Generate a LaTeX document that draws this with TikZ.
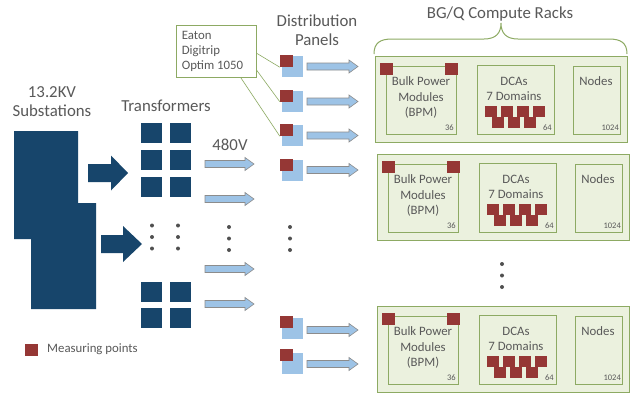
\documentclass[tikz,border=0pt]{standalone}
\usepackage{fontspec}
\setmainfont{Carlito}
\definecolor{dkblue}{HTML}{17456B}
\definecolor{mred}{HTML}{953735}
\definecolor{lblue}{HTML}{9DC3E6}
\definecolor{rackfill}{HTML}{EBF1DE}
\definecolor{rackline}{HTML}{8DAA63}
\definecolor{txt}{HTML}{595959}
\definecolor{arrline}{HTML}{8C8C8C}
\tikzset{
  bigtext/.style={text=txt,inner sep=0pt,align=center,font=\fontsize{16.8}{19.5}\selectfont},
  rtext/.style={text=txt,inner sep=0pt,align=center,font=\fontsize{12.8}{15.5}\selectfont},
  smalltext/.style={text=txt,inner sep=0pt,font=\fontsize{8.5}{10}\selectfont},
  mpt/.style={fill=mred,draw=none,inner sep=0pt,minimum width=13pt,minimum height=12pt},
  dcabox/.style={fill=mred,draw=none,inner sep=0pt,minimum width=12pt,minimum height=10.5pt},
  trbox/.style={fill=dkblue,draw=none,inner sep=0pt,minimum width=21pt,minimum height=20pt},
  panelbox/.style={fill=lblue,draw=none,inner sep=0pt,minimum width=21pt,minimum height=21pt},
  rack/.style={fill=rackfill,draw=rackline,line width=1pt,inner sep=0pt,minimum width=252pt,minimum height=86pt},
  subbox/.style={draw=rackline,line width=1pt,inner sep=0pt},
  flowarrow/.style={fill=lblue,draw=arrline,line width=0.6pt},
  bigarrow/.style={fill=dkblue,draw=none},
  leader/.style={draw=rackline,line width=0.6pt},
  dotmark/.style={fill=txt!90!black},
}
\newcommand{\blkarrow}[7][]{%
  \draw[#1] (#2,#4-#5) -- (#3-#7,#4-#5) -- (#3-#7,#4-#6) -- (#3,#4) -- (#3-#7,#4+#6) -- (#3-#7,#4+#5) -- (#2,#4+#5) -- cycle;}
\newcommand{\vdotsat}[2]{%
  \fill[dotmark] (#1,#2) circle (2pt) (#1,#2+11.5) circle (2pt) (#1,#2+23) circle (2pt);}
\newcommand{\rackat}[3]{%
  \begin{scope}[shift={(#1,#2)}]
    \node[rack] (rack#3) at (126,43) {};
    \node[subbox,minimum width=70pt,minimum height=68pt] (bpm#3) at (46,44) {};
    \node[mpt] (bpmL#3) at (11.5,13) {};
    \node[mpt] (bpmR#3) at (76.5,13) {};
    \node[rtext] (bpmt#3) at (46,41.5) {Bulk Power\\Modules\\(BPM)};
    \node[smalltext,anchor=east] (bpmn#3) at (79,72) {36};
    \node[subbox,minimum width=77pt,minimum height=69pt] (dca#3) at (140.5,43.5) {};
    \node[rtext] (dcat#3) at (139,33) {DCAs\\7 Domains};
    \node[dcabox] (d1#3) at (116,55.5) {};
    \node[dcabox] (d2#3) at (132,55.5) {};
    \node[dcabox] (d3#3) at (148,55.5) {};
    \node[dcabox] (d4#3) at (164,55.5) {};
    \node[dcabox] (d5#3) at (123,66.5) {};
    \node[dcabox] (d6#3) at (139,66.5) {};
    \node[dcabox] (d7#3) at (155,66.5) {};
    \node[smalltext,anchor=east] (dcan#3) at (177,72) {64};
    \node[subbox,minimum width=47pt,minimum height=68pt] (nodes#3) at (221.5,44) {};
    \node[rtext] (nodest#3) at (221,25) {Nodes};
    \node[smalltext,anchor=east] (nodesn#3) at (244,72) {1024};
  \end{scope}}
\begin{document}
\begin{tikzpicture}[x=1pt,y=-1pt]
\useasboundingbox (0,0) rectangle (632,392);
\fill[white] (0,0) rectangle (632,392);
% titles
\node[bigtext] (subst) at (52,101.5) {13.2KV\\Substations};
\node[bigtext] (transf) at (166,106) {Transformers};
\node[bigtext] (v480) at (230,145) {480V};
\node[bigtext] (distp) at (317,30) {Distribution\\Panels};
\node[bigtext] (racks) at (500,14) {BG/Q Compute Racks};
% substation
\fill[dkblue] (14,131) -- (78,131) -- (78,203) -- (96,203) -- (96,309) -- (31,309) -- (31,239) -- (14,239) -- cycle;
\blkarrow[bigarrow]{88}{128}{173}{9}{17.5}{17}
\blkarrow[bigarrow]{101}{142}{244}{9}{18}{19}
% transformers
\node[trbox] (t1) at (151.5,133) {};
\node[trbox] (t2) at (180,133) {};
\node[trbox] (t3) at (151.5,159.5) {};
\node[trbox] (t4) at (180,159.5) {};
\node[trbox] (t5) at (151.5,186.5) {};
\node[trbox] (t6) at (180,186.5) {};
\node[trbox] (t7) at (151.5,291.5) {};
\node[trbox] (t8) at (180,291.5) {};
\node[trbox] (t9) at (151.5,317.5) {};
\node[trbox] (t10) at (180,317.5) {};
\vdotsat{152}{225.5}
\vdotsat{178}{225.5}
% 480V arrows
\blkarrow[flowarrow]{205}{254}{164}{3.5}{6.5}{9}
\blkarrow[flowarrow]{205}{254}{199}{3.5}{6.5}{9}
\blkarrow[flowarrow]{205}{254}{269}{3.5}{6.5}{9}
\blkarrow[flowarrow]{205}{254}{304}{3.5}{6.5}{9}
\vdotsat{229}{227}
\vdotsat{290}{227}
% distribution panels
\node[panelbox] (p1) at (292.5,66.5) {};
\node[panelbox] (p2) at (292.5,101.5) {};
\node[panelbox] (p3) at (292.5,135.5) {};
\node[panelbox] (p4) at (292.5,170) {};
\node[panelbox] (p5) at (292.5,328.5) {};
\node[panelbox] (p6) at (292.5,363) {};
\node[mpt] (m1) at (286.5,61) {};
\node[mpt] (m2) at (286.5,95.5) {};
\node[mpt] (m3) at (286.5,130) {};
\node[mpt] (m4) at (286.5,164.5) {};
\node[mpt] (m5) at (286.5,322) {};
\node[mpt] (m6) at (286.5,355) {};
\blkarrow[flowarrow]{307}{358}{66.5}{3.5}{6.5}{9}
\blkarrow[flowarrow]{307}{358}{101.5}{3.5}{6.5}{9}
\blkarrow[flowarrow]{307}{358}{135.5}{3.5}{6.5}{9}
\blkarrow[flowarrow]{307}{358}{170}{3.5}{6.5}{9}
\blkarrow[flowarrow]{307}{358}{330}{3.5}{6.5}{9}
\blkarrow[flowarrow]{307}{358}{364}{3.5}{6.5}{9}
% Eaton box
\node[draw=rackline,line width=0.8pt,fill=white,text=txt,inner sep=0pt,minimum width=80pt,minimum height=52pt,
      align=left,font=\fontsize{12.8}{15}\selectfont] (eaton) at (216,51)
      {\begin{tabular}{@{}l@{}}Eaton\\Digitrip\\Optim 1050\end{tabular}\hspace*{7pt}};
\draw[leader] (eaton.-3) -- (m1.south west);
\draw[leader] (eaton.-25) -- (m2.south west);
\draw[leader] (eaton.-47) -- (m3.south west);
% racks
\draw[rackline,line width=1pt] (374,54) .. controls (374,43) and (380,39) .. (392,39) -- (484,39)
  .. controls (496,39) and (501,33) .. (501,23) .. controls (501,33) and (506,39) .. (518,39)
  -- (609,39) .. controls (621,39) and (627,43) .. (627,54);
\rackat{375}{56}{a}
\rackat{377}{154}{b}
\rackat{377}{306}{c}
\vdotsat{502}{264}
% legend
\node[mpt] (legsq) at (31.5,349.5) {};
\node[rtext,anchor=west] (legt) at (47,349) {Measuring points};
\end{tikzpicture}
\end{document}
